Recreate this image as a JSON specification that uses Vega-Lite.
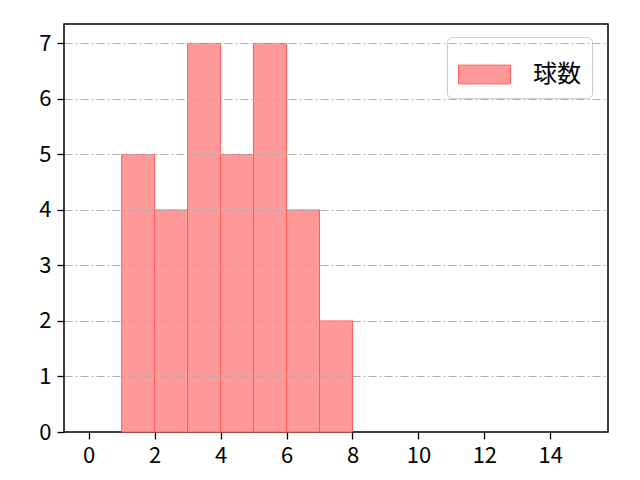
{
  "$schema": "https://vega.github.io/schema/vega-lite/v6.json",
  "width": 544,
  "height": 408,
  "autosize": {"type": "none"},
  "padding": {"left": 64, "top": 24, "right": 32, "bottom": 48},
  "background": "white",
  "data": {"values": [
    {"start": 1, "end": 2, "count": 5},
    {"start": 2, "end": 3, "count": 4},
    {"start": 3, "end": 4, "count": 7},
    {"start": 4, "end": 5, "count": 5},
    {"start": 5, "end": 6, "count": 7},
    {"start": 6, "end": 7, "count": 4},
    {"start": 7, "end": 8, "count": 2}
  ]},
  "mark": {"type": "bar", "stroke": "#ff5c5c", "strokeWidth": 1, "opacity": 1},
  "encoding": {
    "x": {"field": "start", "type": "quantitative",
      "scale": {"domain": [-0.75, 15.75], "nice": false, "zero": false},
      "axis": {"values": [0, 2, 4, 6, 8, 10, 12, 14], "grid": false, "title": null}},
    "x2": {"field": "end"},
    "y": {"field": "count", "type": "quantitative",
      "scale": {"domain": [0, 7.35], "nice": false},
      "axis": {"values": [0, 1, 2, 3, 4, 5, 6, 7], "grid": true, "gridDash": [8, 3, 2, 3],
        "gridColor": {"condition": {"test": "datum.value === 0", "value": "transparent"}, "value": "#b0b0b0"},
        "gridWidth": 1, "title": null, "zindex": 1}},
    "y2": {"datum": 0},
    "color": {"datum": "球数", "type": "nominal", "scale": {"range": ["#ff9999"]},
      "legend": {"title": null, "orient": "none", "legendX": 383, "legendY": 13,
        "symbolType": "M-1,-0.36H1V0.36H-1Z", "symbolSize": 2700,
        "symbolStrokeColor": "#ff5c5c", "symbolStrokeWidth": 1, "symbolOpacity": 1,
        "labelFontSize": 24, "labelOffset": 22, "labelFont": "Noto Sans CJK JP", "labelColor": "#000000",
        "strokeColor": "#cccccc", "cornerRadius": 5, "padding": 11, "fillColor": "white"}}
  },
  "config": {
    "view": {"stroke": "#000000", "strokeWidth": 1.5},
    "axis": {"domain": false, "tickColor": "#000000", "tickSize": 7, "tickWidth": 1.3, "labelFlush": false,
      "labelFont": "Noto Sans CJK JP", "labelFontSize": 22, "labelColor": "#000000", "labelPadding": 6}
  }
}
